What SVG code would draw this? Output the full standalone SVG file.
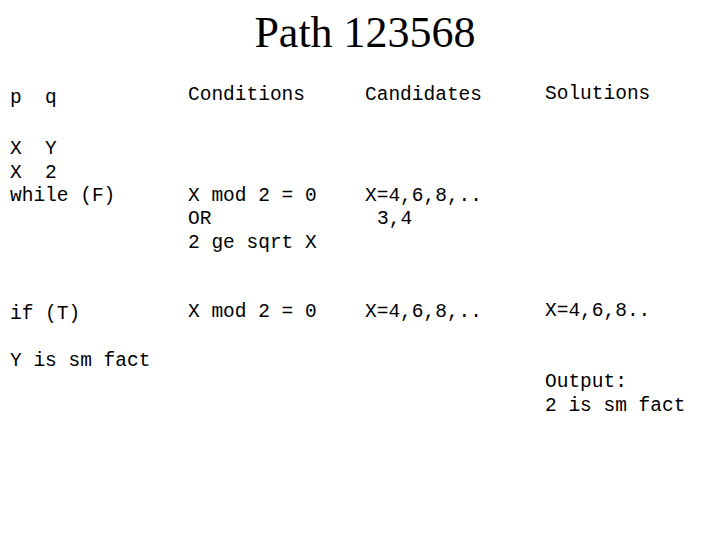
<svg xmlns="http://www.w3.org/2000/svg" width="720" height="540" viewBox="0 0 720 540">
<style>
.t{font-family:"Liberation Serif",serif;font-size:44px;fill:#000}
.m{font-family:"Liberation Mono",monospace;font-size:19.5px;fill:#000;white-space:pre}
</style>
<rect width="720" height="540" fill="#fff"/>
<text class="t" x="365" y="47" text-anchor="middle">Path 123568</text>
<g id="col-pq">
<text class="m" x="10" y="103" xml:space="preserve">p  q</text>
<text class="m" x="10" y="154" xml:space="preserve">X  Y</text>
<text class="m" x="10" y="178" xml:space="preserve">X  2</text>
<text class="m" x="10" y="201">while (F)</text>
<text class="m" x="10" y="319">if (T)</text>
<text class="m" x="10" y="366">Y is sm fact</text>
</g>
<g id="col-cond">
<text class="m" x="188" y="100">Conditions</text>
<text class="m" x="188" y="201">X mod 2 = 0</text>
<text class="m" x="188" y="224">OR</text>
<text class="m" x="188" y="248">2 ge sqrt X</text>
<text class="m" x="188" y="317">X mod 2 = 0</text>
</g>
<g id="col-cand">
<text class="m" x="365" y="100">Candidates</text>
<text class="m" x="365" y="201">X=4,6,8,..</text>
<text class="m" x="377" y="224">3,4</text>
<text class="m" x="365" y="317">X=4,6,8,..</text>
</g>
<g id="col-sol">
<text class="m" x="545" y="99">Solutions</text>
<text class="m" x="545" y="316">X=4,6,8..</text>
<text class="m" x="545" y="387">Output:</text>
<text class="m" x="545" y="411">2 is sm fact</text>
</g>
<g id="connectors"/>
</svg>
